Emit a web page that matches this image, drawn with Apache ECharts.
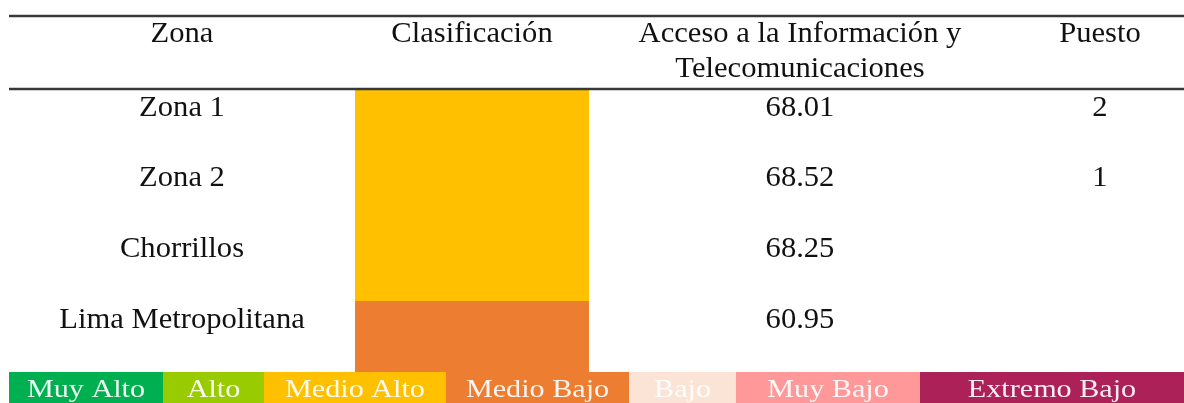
<!DOCTYPE html>
<html><head><meta charset="utf-8">
<script src="https://cdn.jsdelivr.net/npm/echarts@6/dist/echarts.min.js"></script>
<style>html,body{margin:0;padding:0;background:#fff}#c{width:1184px;height:403px}</style>
</head><body><div id="c"></div>
<script>
// ---- data ----
const headers = ['Zona', 'Clasificación', 'Acceso a la Información y\nTelecomunicaciones', 'Puesto'];
const zones = ['Zona 1', 'Zona 2', 'Chorrillos', 'Lima Metropolitana'];
const classification = ['Medio Alto', 'Medio Alto', 'Medio Alto', 'Medio Bajo'];
const accessValues = [68.01, 68.52, 68.25, 60.95];
const ranks = [2, 1, null, null];
const levels = ['Muy Alto', 'Alto', 'Medio Alto', 'Medio Bajo', 'Bajo', 'Muy Bajo', 'Extremo Bajo'];

// ---- styles / layout ----
const levelColors = ['#00B050', '#99CC00', '#FFC000', '#ED7D31', '#FBE3D6', '#FF9999', '#AD2159'];
const W = 1184, H = 403;
const ROW_TOP = 89, ROW_H = 70.75, TEXT_DY = 19;
const TOP_LINE = 16, HEADER_TEXT_TOP = 17, HEADER_LH = 35;
const TABLE_X = [9, 1184];
const COL_CENTER = [182, 472, 800, 1100];
const CLASS_SPAN = [355, 589];
const LEGEND_EDGES = [9, 163, 264, 446, 629, 736, 920, 1184];
const LEGEND_TOP = 372, LEGEND_TEXT_Y = 390.5;
const FONT = '"Liberation Serif", "Times New Roman", serif';
const MAIN_SIZE = 29, MAIN_SX = 1.055;
const LEG_SIZE = 26, LEG_SX = 1.16;

function rowY(i) { return ROW_TOP + i * ROW_H; }

const chart = echarts.init(document.getElementById('c'), null, {renderer: 'canvas'});

const bodyCells = [];
zones.forEach((z, i) => {
  bodyCells.push([i, 0, z]);
  bodyCells.push([i, 2, accessValues[i].toFixed(2)]);
  if (ranks[i] != null) bodyCells.push([i, 3, String(ranks[i])]);
});

function textEl(x, y, text, size, sx, fill, vAlign, lh) {
  return {
    type: 'text', x: x, y: y, scaleX: sx,
    style: {
      text: text, fill: fill,
      font: size + 'px ' + FONT,
      align: 'center', verticalAlign: vAlign || 'middle',
      lineHeight: lh
    }
  };
}
function rectEl(p0, p1, fill) {
  const x0 = Math.round(p0[0]), y0 = Math.round(p0[1]);
  const x1 = Math.round(p1[0]), y1 = Math.round(p1[1]);
  return {type: 'rect', shape: {x: x0, y: y0, width: x1 - x0, height: y1 - y0}, style: {fill: fill}};
}

const option = {
  animation: false,
  backgroundColor: '#fff',
  grid: {left: 0, right: 0, top: 0, bottom: 0},
  xAxis: {type: 'value', min: 0, max: W, show: false},
  yAxis: {type: 'value', min: 0, max: H, inverse: true, show: false},
  series: [
    { // classification cells
      type: 'custom', coordinateSystem: 'cartesian2d',
      data: classification.map((c, i) => [i, levels.indexOf(c)]),
      renderItem: function (params, api) {
        const i = api.value(0), k = api.value(1);
        return rectEl(api.coord([CLASS_SPAN[0], rowY(i)]), api.coord([CLASS_SPAN[1], rowY(i + 1)]), levelColors[k]);
      }
    },
    { // legend bar
      type: 'custom', coordinateSystem: 'cartesian2d',
      data: levels.map((l, k) => [k]),
      renderItem: function (params, api) {
        const k = api.value(0);
        const pc = api.coord([(LEGEND_EDGES[k] + LEGEND_EDGES[k + 1]) / 2, LEGEND_TEXT_Y]);
        return {type: 'group', children: [
          rectEl(api.coord([LEGEND_EDGES[k], LEGEND_TOP]), api.coord([LEGEND_EDGES[k + 1], H]), levelColors[k]),
          textEl(pc[0], pc[1], levels[k], LEG_SIZE, LEG_SX, 'rgba(255,255,255,0.92)')
        ]};
      }
    },
    { // rules
      type: 'custom', coordinateSystem: 'cartesian2d',
      data: [[TOP_LINE], [ROW_TOP]],
      renderItem: function (params, api) {
        const y = api.value(0);
        const a = api.coord([TABLE_X[0], y]), b = api.coord([TABLE_X[1], y]);
        return {type: 'line', shape: {x1: a[0], y1: a[1], x2: b[0], y2: b[1]},
          style: {stroke: '#383838', lineWidth: 2.6}};
      }
    },
    { // header texts
      type: 'custom', coordinateSystem: 'cartesian2d',
      data: headers.map((h, j) => [j]),
      renderItem: function (params, api) {
        const j = api.value(0);
        const p = api.coord([COL_CENTER[j], HEADER_TEXT_TOP]);
        return textEl(p[0], p[1], headers[j], MAIN_SIZE, MAIN_SX, '#111', 'top', HEADER_LH);
      }
    },
    { // body texts
      type: 'custom', coordinateSystem: 'cartesian2d',
      data: bodyCells.map(c => [c[0], c[1]]),
      renderItem: function (params, api) {
        const i = api.value(0), j = api.value(1);
        const p = api.coord([COL_CENTER[j], rowY(i) + TEXT_DY]);
        return textEl(p[0], p[1], bodyCells[params.dataIndex][2], MAIN_SIZE, MAIN_SX, '#111');
      }
    }
  ]
};
chart.setOption(option);
</script></body></html>
